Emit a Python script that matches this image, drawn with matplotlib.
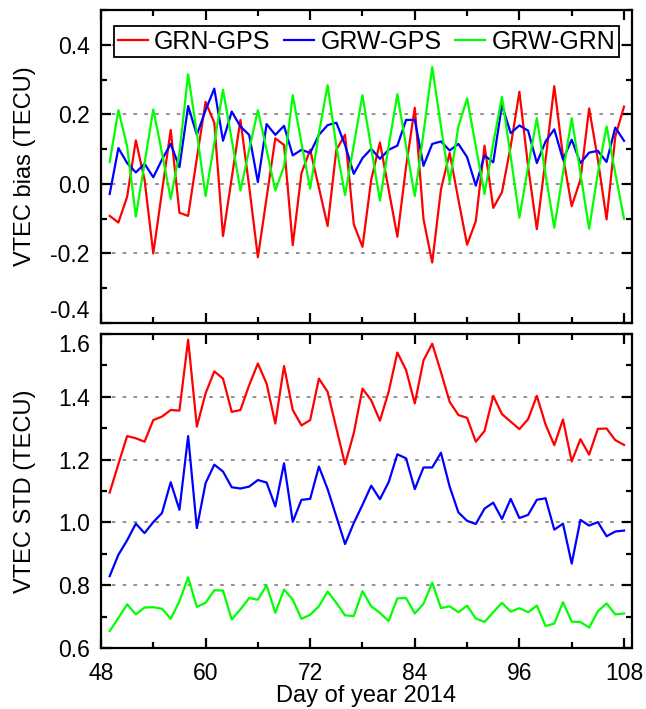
import numpy as np
import matplotlib
matplotlib.use("Agg")
import matplotlib.pyplot as plt
from matplotlib.ticker import MultipleLocator, FormatStrFormatter

plt.rcParams['font.family'] = ['Liberation Sans', 'DejaVu Sans']

# day of year 2014
days = np.arange(49, 109)

# VTEC bias (TECU)
bias_grn_gps = [-0.092, -0.111, -0.037, 0.125, 0.012, -0.200, -0.022, 0.155, -0.083, -0.092,
                0.074, 0.236, 0.176, -0.150, 0.017, 0.184, -0.007, -0.211, -0.040, 0.131,
                0.112, -0.176, 0.031, 0.098, -0.011, -0.121, 0.098, 0.141, -0.116, -0.181,
                0.012, 0.119, -0.016, -0.152, 0.050, 0.219, -0.102, -0.226, -0.016, 0.089,
                -0.045, -0.175, -0.107, 0.110, -0.069, -0.024, 0.108, 0.265, 0.050, -0.130,
                0.070, 0.281, 0.079, -0.064, 0.012, 0.217, 0.070, -0.102, 0.136, 0.222]
bias_grw_gps = [-0.029, 0.103, 0.060, 0.033, 0.058, 0.019, 0.070, 0.115, 0.048, 0.224,
                0.141, 0.212, 0.274, 0.124, 0.208, 0.165, 0.141, 0.005, 0.172, 0.141,
                0.167, 0.082, 0.098, 0.089, 0.141, 0.169, 0.176, 0.112, 0.029, 0.074,
                0.101, 0.072, 0.098, 0.110, 0.184, 0.184, 0.052, 0.115, 0.122, 0.096,
                0.115, 0.077, -0.005, 0.082, 0.062, 0.227, 0.146, 0.168, 0.153, 0.060,
                0.122, 0.157, 0.070, 0.127, 0.060, 0.090, 0.095, 0.063, 0.162, 0.124]
bias_grw_grn = [0.063, 0.212, 0.108, -0.094, 0.060, 0.214, 0.089, -0.043, 0.089, 0.315,
                0.146, -0.035, 0.117, 0.271, 0.127, -0.019, 0.098, 0.212, 0.098, -0.019,
                0.050, 0.255, 0.117, -0.014, 0.146, 0.284, 0.108, -0.032, 0.112, 0.255,
                0.103, -0.048, 0.108, 0.258, 0.108, -0.035, 0.146, 0.336, 0.165, 0.005,
                0.165, 0.246, 0.108, -0.029, 0.117, 0.250, 0.079, -0.097, 0.050, 0.189,
                0.027, -0.126, 0.031, 0.189, 0.031, -0.129, 0.031, 0.165, 0.031, -0.100]

# VTEC STD (TECU)
std_grn_gps = [1.095, 1.186, 1.275, 1.268, 1.257, 1.326, 1.337, 1.358, 1.356, 1.582,
               1.305, 1.411, 1.481, 1.458, 1.352, 1.358, 1.437, 1.506, 1.442, 1.315,
               1.498, 1.358, 1.309, 1.326, 1.458, 1.416, 1.300, 1.185, 1.284, 1.426,
               1.389, 1.324, 1.416, 1.541, 1.485, 1.379, 1.516, 1.569, 1.479, 1.384,
               1.342, 1.333, 1.257, 1.291, 1.403, 1.345, 1.321, 1.297, 1.329, 1.403,
               1.312, 1.246, 1.328, 1.194, 1.265, 1.216, 1.298, 1.299, 1.262, 1.247]
std_grw_gps = [0.829, 0.897, 0.943, 0.996, 0.966, 1.001, 1.030, 1.128, 1.040, 1.275,
               0.982, 1.125, 1.184, 1.162, 1.112, 1.108, 1.114, 1.135, 1.127, 1.051,
               1.188, 1.002, 1.072, 1.075, 1.178, 1.106, 1.019, 0.931, 0.998, 1.056,
               1.117, 1.074, 1.128, 1.217, 1.204, 1.106, 1.175, 1.175, 1.222, 1.114,
               1.032, 1.005, 0.995, 1.044, 1.063, 1.011, 1.075, 1.014, 1.024, 1.072,
               1.077, 0.977, 0.996, 0.869, 1.008, 0.990, 1.001, 0.956, 0.971, 0.974]
std_grw_grn = [0.654, 0.696, 0.739, 0.707, 0.729, 0.730, 0.725, 0.693, 0.749, 0.825,
               0.731, 0.744, 0.784, 0.783, 0.691, 0.723, 0.759, 0.754, 0.800, 0.712,
               0.786, 0.754, 0.693, 0.706, 0.733, 0.780, 0.744, 0.704, 0.702, 0.781,
               0.733, 0.712, 0.686, 0.758, 0.759, 0.710, 0.741, 0.808, 0.727, 0.733,
               0.714, 0.735, 0.694, 0.683, 0.714, 0.744, 0.716, 0.727, 0.714, 0.735,
               0.670, 0.678, 0.746, 0.684, 0.683, 0.665, 0.717, 0.742, 0.707, 0.710]

labels = ["GRN-GPS", "GRW-GPS", "GRW-GRN"]
colors = ["#ff0000", "#0000ff", "#00ff00"]

fig = plt.figure(figsize=(6.46, 7.09), dpi=100)
ax1 = fig.add_axes([0.1563, 0.5444, 0.8218, 0.4415])
ax2 = fig.add_axes([0.1563, 0.0860, 0.8218, 0.4429])


def style_axis(ax):
    for sp in ax.spines.values():
        sp.set_linewidth(1.6)
    ax.tick_params(which='both', direction='in', top=True, right=True,
                   width=1.6, labelsize=16.5)
    ax.tick_params(which='major', length=7)
    ax.tick_params(which='minor', length=4)
    ax.tick_params(axis='y', pad=8)
    ax.tick_params(axis='x', pad=10)
    ax.xaxis.set_major_locator(MultipleLocator(12))
    ax.xaxis.set_minor_locator(MultipleLocator(6))
    ax.set_xlim(48, 108.9)
    ax.yaxis.grid(True, which='major', color='#888888', linestyle=(0, (2, 4)),
                  linewidth=1.3)
    ax.set_axisbelow(True)


# bias panel
for vals, lab, c in zip([bias_grn_gps, bias_grw_gps, bias_grw_grn], labels, colors):
    ax1.plot(days, vals, color=c, lw=1.6, label=lab)
style_axis(ax1)
ax1.set_ylim(-0.4, 0.5)
ax1.yaxis.set_minor_locator(MultipleLocator(0.1))
ax1.set_yticks([-0.4, -0.2, 0.0, 0.2, 0.4])
ax1.set_yticklabels(["-0.4", "-0.2", "0.0", "0.2", "0.4"])
ax1.get_yticklabels()[0].set_va('bottom')
ax1.tick_params(labelbottom=False)
ax1.set_ylabel("VTEC bias (TECU)", fontsize=17)
ax1.yaxis.set_label_coords(-0.122, 0.5)
leg = ax1.legend(loc='center', ncol=3, fontsize=18, frameon=True,
                 fancybox=False, edgecolor='black', handlelength=1.2,
                 handletextpad=0.25, columnspacing=0.55, borderpad=0.15,
                 borderaxespad=0, bbox_to_anchor=(0.5, 0.899))
leg.get_frame().set_linewidth(1.3)
leg.get_frame().set_alpha(1)

# std panel
for vals, lab, c in zip([std_grn_gps, std_grw_gps, std_grw_grn], labels, colors):
    ax2.plot(days, vals, color=c, lw=1.6, label=lab)
style_axis(ax2)
ax2.set_ylim(0.6, 1.6)
ax2.set_yticks([0.6, 0.8, 1.0, 1.2, 1.4, 1.6])
ax2.yaxis.set_minor_locator(MultipleLocator(0.1))
ax2.yaxis.set_major_formatter(FormatStrFormatter('%.1f'))
ax2.get_yticklabels()[-1].set_va('top')
ax2.set_ylabel("VTEC STD (TECU)", fontsize=17)
ax2.yaxis.set_label_coords(-0.122, 0.5)
ax2.set_xlabel("Day of year 2014", fontsize=17)
ax2.xaxis.set_label_coords(0.5, -0.118)

fig.savefig("out.png", dpi=100)
